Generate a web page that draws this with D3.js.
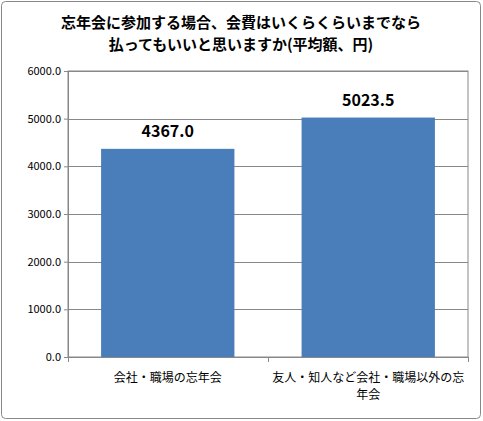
<!DOCTYPE html>
<html><head><meta charset="utf-8">
<script src="https://cdn.jsdelivr.net/npm/d3@7"></script>
<style>body{margin:0;background:#fff}svg{display:block}</style>
</head><body><svg id="c" width="483" height="421"></svg>
<script>
const categories = ["会社・職場の忘年会", "友人・知人など会社・職場以外の忘年会"];
const values = [4367.0, 5023.5];
const yTicks = [0, 1000, 2000, 3000, 4000, 5000, 6000];
const titleLines = ["忘年会に参加する場合、会費はいくらくらいまでなら", "払ってもいいと思いますか(平均額、円)"];

const svg = d3.select("#c");
const font = "'Noto Sans CJK JP', sans-serif";
svg.append("rect").attr("x",1.5).attr("y",1.5).attr("width",479).attr("height",417).attr("rx",4)
  .attr("fill","#fff").attr("stroke","#888");
const L=68,R=468,T=71,B=357;
const y=d3.scaleLinear().domain([0,6000]).range([B,T]);
const x=d3.scaleBand().domain(categories).range([L,R]).paddingInner(0.335).paddingOuter(0.165);
const g=svg.append("g");
g.append("rect").attr("x",L).attr("y",T).attr("width",R-L).attr("height",B-T).attr("fill","none").attr("stroke","#888");
g.selectAll(".gl").data(yTicks.slice(1)).join("line").attr("x1",L).attr("x2",R)
  .attr("y1",d=>Math.round(y(d))+0.5).attr("y2",d=>Math.round(y(d))+0.5).attr("stroke","#888");
const ya=svg.append("g").attr("transform",`translate(${L},0)`)
  .call(d3.axisLeft(y).tickValues(yTicks).tickFormat(d3.format(".1f")).tickSize(4));
ya.selectAll("text").attr("font-family",font).attr("font-size",11).attr("fill","#000");
ya.selectAll("line,path").attr("stroke","#888");
const xa=svg.append("g").attr("transform",`translate(0,${B})`)
  .call(d3.axisBottom(x).tickSize(0).tickFormat(""));
xa.selectAll("path").attr("stroke","#888");
[L,(L+R)/2,R].forEach(v=>svg.append("line").attr("x1",v+0.5).attr("x2",v+0.5).attr("y1",B).attr("y2",B+5).attr("stroke","#888"));
g.selectAll(".bar").data(values).join("rect")
  .attr("x",(d,i)=>x(categories[i])).attr("width",x.bandwidth())
  .attr("y",d=>y(d)).attr("height",d=>B-y(d)).attr("fill","#4a7ebb");
g.selectAll(".vl").data(values).join("text")
  .attr("x",(d,i)=>x(categories[i])+x.bandwidth()/2).attr("y",d=>y(d)-12)
  .attr("text-anchor","middle").attr("font-family",font).attr("font-weight","bold").attr("font-size",16)
  .text(d=>d.toFixed(1));
const catLines=[["会社・職場の忘年会"],["友人・知人など会社・職場以外の忘","年会"]];
catLines.forEach((ls,i)=>ls.forEach((s,j)=>svg.append("text")
  .attr("x",x(categories[i])+x.bandwidth()/2).attr("y",B+25+j*17).attr("text-anchor","middle")
  .attr("font-family",font).attr("font-size",12).text(s)));
titleLines.forEach((s,j)=>svg.append("text").attr("x",241).attr("y",28+j*22).attr("text-anchor","middle")
  .attr("font-family",font).attr("font-weight","bold").attr("font-size",15).text(s));
</script></body></html>
